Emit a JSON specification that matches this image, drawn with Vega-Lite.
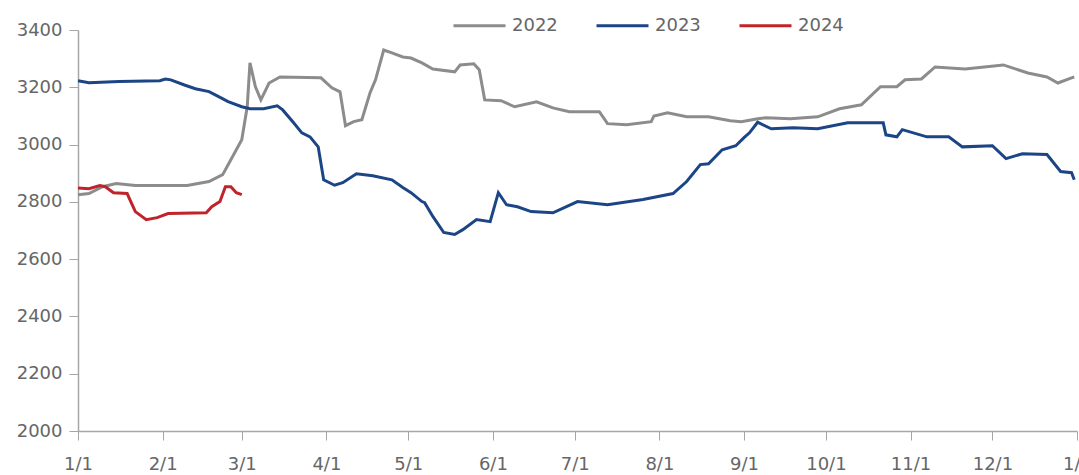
{
  "$schema": "https://vega.github.io/schema/vega-lite/v6.json",
  "width": 999,
  "height": 401,
  "autosize": {"type": "none"},
  "padding": {"left": 78, "top": 30, "right": 2, "bottom": 44},
  "background": "white",
  "config": {"view": {"stroke": null}, "font": "DejaVu Sans"},
  "data": {"values": [
    {"date": "2022-01-01", "price": 2825, "year": "2022"},
    {"date": "2022-01-05", "price": 2829, "year": "2022"},
    {"date": "2022-01-10", "price": 2853, "year": "2022"},
    {"date": "2022-01-15", "price": 2864, "year": "2022"},
    {"date": "2022-01-22", "price": 2857, "year": "2022"},
    {"date": "2022-02-10", "price": 2857, "year": "2022"},
    {"date": "2022-02-18", "price": 2871, "year": "2022"},
    {"date": "2022-02-23", "price": 2895, "year": "2022"},
    {"date": "2022-02-26", "price": 2947, "year": "2022"},
    {"date": "2022-03-01", "price": 3017, "year": "2022"},
    {"date": "2022-03-03", "price": 3132, "year": "2022"},
    {"date": "2022-03-04", "price": 3285, "year": "2022"},
    {"date": "2022-03-06", "price": 3202, "year": "2022"},
    {"date": "2022-03-08", "price": 3156, "year": "2022"},
    {"date": "2022-03-11", "price": 3215, "year": "2022"},
    {"date": "2022-03-15", "price": 3236, "year": "2022"},
    {"date": "2022-03-30", "price": 3233, "year": "2022"},
    {"date": "2022-04-03", "price": 3198, "year": "2022"},
    {"date": "2022-04-06", "price": 3184, "year": "2022"},
    {"date": "2022-04-08", "price": 3066, "year": "2022"},
    {"date": "2022-04-11", "price": 3080, "year": "2022"},
    {"date": "2022-04-14", "price": 3087, "year": "2022"},
    {"date": "2022-04-17", "price": 3181, "year": "2022"},
    {"date": "2022-04-19", "price": 3226, "year": "2022"},
    {"date": "2022-04-22", "price": 3330, "year": "2022"},
    {"date": "2022-04-25", "price": 3320, "year": "2022"},
    {"date": "2022-04-29", "price": 3306, "year": "2022"},
    {"date": "2022-05-02", "price": 3302, "year": "2022"},
    {"date": "2022-05-06", "price": 3285, "year": "2022"},
    {"date": "2022-05-10", "price": 3264, "year": "2022"},
    {"date": "2022-05-18", "price": 3254, "year": "2022"},
    {"date": "2022-05-20", "price": 3278, "year": "2022"},
    {"date": "2022-05-25", "price": 3282, "year": "2022"},
    {"date": "2022-05-27", "price": 3261, "year": "2022"},
    {"date": "2022-05-29", "price": 3156, "year": "2022"},
    {"date": "2022-06-04", "price": 3153, "year": "2022"},
    {"date": "2022-06-09", "price": 3132, "year": "2022"},
    {"date": "2022-06-17", "price": 3149, "year": "2022"},
    {"date": "2022-06-23", "price": 3128, "year": "2022"},
    {"date": "2022-06-29", "price": 3115, "year": "2022"},
    {"date": "2022-07-10", "price": 3115, "year": "2022"},
    {"date": "2022-07-13", "price": 3073, "year": "2022"},
    {"date": "2022-07-20", "price": 3069, "year": "2022"},
    {"date": "2022-07-29", "price": 3080, "year": "2022"},
    {"date": "2022-07-30", "price": 3100, "year": "2022"},
    {"date": "2022-08-04", "price": 3111, "year": "2022"},
    {"date": "2022-08-11", "price": 3097, "year": "2022"},
    {"date": "2022-08-19", "price": 3097, "year": "2022"},
    {"date": "2022-08-27", "price": 3083, "year": "2022"},
    {"date": "2022-08-31", "price": 3080, "year": "2022"},
    {"date": "2022-09-06", "price": 3090, "year": "2022"},
    {"date": "2022-09-09", "price": 3094, "year": "2022"},
    {"date": "2022-09-18", "price": 3090, "year": "2022"},
    {"date": "2022-09-28", "price": 3097, "year": "2022"},
    {"date": "2022-10-06", "price": 3125, "year": "2022"},
    {"date": "2022-10-14", "price": 3139, "year": "2022"},
    {"date": "2022-10-21", "price": 3202, "year": "2022"},
    {"date": "2022-10-27", "price": 3202, "year": "2022"},
    {"date": "2022-10-30", "price": 3226, "year": "2022"},
    {"date": "2022-11-05", "price": 3229, "year": "2022"},
    {"date": "2022-11-10", "price": 3271, "year": "2022"},
    {"date": "2022-11-21", "price": 3264, "year": "2022"},
    {"date": "2022-12-05", "price": 3278, "year": "2022"},
    {"date": "2022-12-14", "price": 3250, "year": "2022"},
    {"date": "2022-12-21", "price": 3236, "year": "2022"},
    {"date": "2022-12-25", "price": 3215, "year": "2022"},
    {"date": "2022-12-30", "price": 3233, "year": "2022"},
    {"date": "2022-12-31", "price": 3236, "year": "2022"},
    {"date": "2023-01-01", "price": 3223, "year": "2023"},
    {"date": "2023-01-05", "price": 3216, "year": "2023"},
    {"date": "2023-01-16", "price": 3220, "year": "2023"},
    {"date": "2023-01-31", "price": 3223, "year": "2023"},
    {"date": "2023-02-02", "price": 3229, "year": "2023"},
    {"date": "2023-02-04", "price": 3226, "year": "2023"},
    {"date": "2023-02-09", "price": 3208, "year": "2023"},
    {"date": "2023-02-13", "price": 3195, "year": "2023"},
    {"date": "2023-02-18", "price": 3185, "year": "2023"},
    {"date": "2023-02-21", "price": 3170, "year": "2023"},
    {"date": "2023-02-25", "price": 3150, "year": "2023"},
    {"date": "2023-03-01", "price": 3132, "year": "2023"},
    {"date": "2023-03-04", "price": 3125, "year": "2023"},
    {"date": "2023-03-09", "price": 3125, "year": "2023"},
    {"date": "2023-03-14", "price": 3135, "year": "2023"},
    {"date": "2023-03-16", "price": 3121, "year": "2023"},
    {"date": "2023-03-20", "price": 3076, "year": "2023"},
    {"date": "2023-03-23", "price": 3041, "year": "2023"},
    {"date": "2023-03-26", "price": 3027, "year": "2023"},
    {"date": "2023-03-29", "price": 2992, "year": "2023"},
    {"date": "2023-03-31", "price": 2877, "year": "2023"},
    {"date": "2023-04-04", "price": 2858, "year": "2023"},
    {"date": "2023-04-07", "price": 2867, "year": "2023"},
    {"date": "2023-04-12", "price": 2898, "year": "2023"},
    {"date": "2023-04-18", "price": 2891, "year": "2023"},
    {"date": "2023-04-25", "price": 2877, "year": "2023"},
    {"date": "2023-04-29", "price": 2850, "year": "2023"},
    {"date": "2023-05-02", "price": 2832, "year": "2023"},
    {"date": "2023-05-06", "price": 2801, "year": "2023"},
    {"date": "2023-05-07", "price": 2797, "year": "2023"},
    {"date": "2023-05-10", "price": 2749, "year": "2023"},
    {"date": "2023-05-14", "price": 2693, "year": "2023"},
    {"date": "2023-05-18", "price": 2686, "year": "2023"},
    {"date": "2023-05-21", "price": 2703, "year": "2023"},
    {"date": "2023-05-26", "price": 2738, "year": "2023"},
    {"date": "2023-05-31", "price": 2731, "year": "2023"},
    {"date": "2023-06-03", "price": 2832, "year": "2023"},
    {"date": "2023-06-06", "price": 2790, "year": "2023"},
    {"date": "2023-06-10", "price": 2783, "year": "2023"},
    {"date": "2023-06-15", "price": 2766, "year": "2023"},
    {"date": "2023-06-23", "price": 2762, "year": "2023"},
    {"date": "2023-07-02", "price": 2801, "year": "2023"},
    {"date": "2023-07-13", "price": 2790, "year": "2023"},
    {"date": "2023-07-26", "price": 2808, "year": "2023"},
    {"date": "2023-08-06", "price": 2829, "year": "2023"},
    {"date": "2023-08-11", "price": 2871, "year": "2023"},
    {"date": "2023-08-16", "price": 2930, "year": "2023"},
    {"date": "2023-08-19", "price": 2933, "year": "2023"},
    {"date": "2023-08-24", "price": 2982, "year": "2023"},
    {"date": "2023-08-29", "price": 2996, "year": "2023"},
    {"date": "2023-09-01", "price": 3024, "year": "2023"},
    {"date": "2023-09-03", "price": 3041, "year": "2023"},
    {"date": "2023-09-06", "price": 3078, "year": "2023"},
    {"date": "2023-09-11", "price": 3055, "year": "2023"},
    {"date": "2023-09-19", "price": 3059, "year": "2023"},
    {"date": "2023-09-28", "price": 3055, "year": "2023"},
    {"date": "2023-10-09", "price": 3076, "year": "2023"},
    {"date": "2023-10-22", "price": 3076, "year": "2023"},
    {"date": "2023-10-23", "price": 3034, "year": "2023"},
    {"date": "2023-10-27", "price": 3027, "year": "2023"},
    {"date": "2023-10-29", "price": 3052, "year": "2023"},
    {"date": "2023-11-07", "price": 3027, "year": "2023"},
    {"date": "2023-11-15", "price": 3027, "year": "2023"},
    {"date": "2023-11-20", "price": 2992, "year": "2023"},
    {"date": "2023-12-01", "price": 2996, "year": "2023"},
    {"date": "2023-12-06", "price": 2951, "year": "2023"},
    {"date": "2023-12-12", "price": 2968, "year": "2023"},
    {"date": "2023-12-21", "price": 2965, "year": "2023"},
    {"date": "2023-12-26", "price": 2906, "year": "2023"},
    {"date": "2023-12-30", "price": 2902, "year": "2023"},
    {"date": "2023-12-31", "price": 2877, "year": "2023"},
    {"date": "2024-01-01", "price": 2848, "year": "2024"},
    {"date": "2024-01-05", "price": 2846, "year": "2024"},
    {"date": "2024-01-09", "price": 2857, "year": "2024"},
    {"date": "2024-01-11", "price": 2853, "year": "2024"},
    {"date": "2024-01-14", "price": 2832, "year": "2024"},
    {"date": "2024-01-19", "price": 2829, "year": "2024"},
    {"date": "2024-01-22", "price": 2766, "year": "2024"},
    {"date": "2024-01-26", "price": 2738, "year": "2024"},
    {"date": "2024-01-30", "price": 2745, "year": "2024"},
    {"date": "2024-02-03", "price": 2759, "year": "2024"},
    {"date": "2024-02-17", "price": 2762, "year": "2024"},
    {"date": "2024-02-19", "price": 2783, "year": "2024"},
    {"date": "2024-02-22", "price": 2801, "year": "2024"},
    {"date": "2024-02-24", "price": 2853, "year": "2024"},
    {"date": "2024-02-26", "price": 2853, "year": "2024"},
    {"date": "2024-02-28", "price": 2832, "year": "2024"},
    {"date": "2024-03-01", "price": 2825, "year": "2024"}
  ]},
  "mark": {"type": "line", "strokeWidth": 3},
  "encoding": {
    "x": {
      "field": "date",
      "timeUnit": "utcmonthdate",
      "type": "temporal",
      "scale": {"type": "utc", "domain": [{"year": 2012, "month": 1, "date": 1, "utc": true}, {"year": 2013, "month": 1, "date": 1, "utc": true}]},
      "axis": {
        "title": null,
        "format": "%-m/%-d",
        "values": [
          {"year": 2012, "month": 1, "date": 1, "utc": true},
          {"year": 2012, "month": 2, "date": 1, "utc": true},
          {"year": 2012, "month": 3, "date": 1, "utc": true},
          {"year": 2012, "month": 4, "date": 1, "utc": true},
          {"year": 2012, "month": 5, "date": 1, "utc": true},
          {"year": 2012, "month": 6, "date": 1, "utc": true},
          {"year": 2012, "month": 7, "date": 1, "utc": true},
          {"year": 2012, "month": 8, "date": 1, "utc": true},
          {"year": 2012, "month": 9, "date": 1, "utc": true},
          {"year": 2012, "month": 10, "date": 1, "utc": true},
          {"year": 2012, "month": 11, "date": 1, "utc": true},
          {"year": 2012, "month": 12, "date": 1, "utc": true},
          {"year": 2013, "month": 1, "date": 1, "utc": true}
        ],
        "grid": false,
        "domainColor": "#a6a6a6",
        "domainWidth": 1.5,
        "tickColor": "#a6a6a6",
        "tickSize": 9,
        "labelColor": "#666666",
        "labelFontSize": 18,
        "labelPadding": 15,
        "labelFlush": false,
        "labelOverlap": false
      }
    },
    "y": {
      "field": "price",
      "type": "quantitative",
      "scale": {"domain": [2000, 3400], "nice": false, "zero": false},
      "axis": {
        "title": null,
        "format": "d",
        "values": [2000, 2200, 2400, 2600, 2800, 3000, 3200, 3400],
        "grid": false,
        "domainColor": "#a6a6a6",
        "domainWidth": 1.5,
        "tickColor": "#a6a6a6",
        "tickSize": 9,
        "labelColor": "#666666",
        "labelFontSize": 18,
        "labelPadding": 7
      }
    },
    "color": {
      "field": "year",
      "type": "nominal",
      "scale": {"domain": ["2022", "2023", "2024"], "range": ["#8c8c8c", "#1c4585", "#c0232b"]},
      "legend": {
        "title": null,
        "orient": "none",
        "direction": "horizontal",
        "legendX": 374,
        "legendY": -32,
        "symbolType": "stroke",
        "symbolStrokeWidth": 3,
        "symbolSize": 2704,
        "labelFontSize": 18,
        "labelColor": "#666666",
        "labelOffset": 5,
        "columnPadding": 32
      }
    }
  }
}
